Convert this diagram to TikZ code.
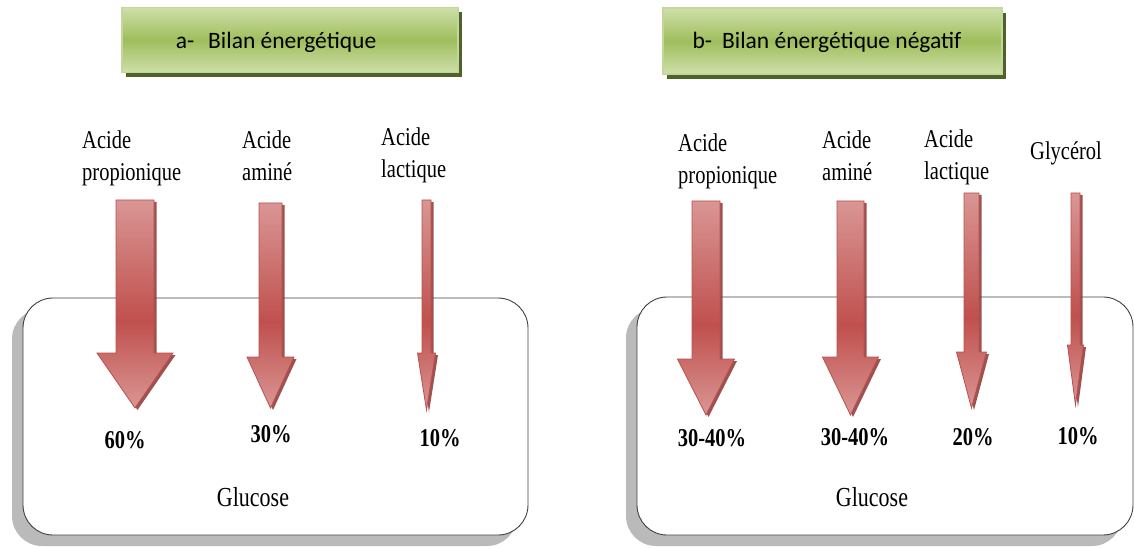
\documentclass[tikz,border=0pt]{standalone}
\usepackage{fontspec}
\setmainfont{Liberation Serif}
\newfontfamily\calib{Carlito}
\usepackage{graphicx}
\usetikzlibrary{shadows,calc}
\definecolor{arL}{HTML}{D99694}
\definecolor{arD}{HTML}{C0504D}
\definecolor{arB}{HTML}{B9504E}
\definecolor{arS}{HTML}{8C3432}
\definecolor{tL}{HTML}{CFDFAA}
\definecolor{tD}{HTML}{9FBE5C}
\definecolor{tB}{HTML}{C3D69B}
\definecolor{tS}{HTML}{4F6228}
\pgfdeclareverticalshading{arrshade}{100bp}{color(0bp)=(arL); color(25bp)=(arL); color(46bp)=(arD); color(75bp)=(arL); color(100bp)=(arL)}
\newcommand\lab[1]{\scalebox{1}[1.25]{\begin{tabular}[t]{@{}l@{}}#1\end{tabular}}}
\newcommand\tall[1]{\scalebox{1}[1.25]{#1}}
% #1 name, #2 xc, #3 ytop, #4 shaft half width, #5 y head, #6 head half width, #7 y tip
\newcommand\darrow[7]{%
  \begin{scope}[shift={(2.5,2)}]
  \fill[arS, opacity=0.85] (#2-#4,#3) -- (#2+#4,#3) -- (#2+#4,#5) -- (#2+#6,#5) -- (#2,#7) -- (#2-#6,#5) -- (#2-#4,#5) -- cycle;
  \end{scope}
  \draw[arrowbody] (#2-#4,#3) -- (#2+#4,#3) -- (#2+#4,#5) -- (#2+#6,#5) -- (#2,#7) -- (#2-#6,#5) -- (#2-#4,#5) -- cycle;
  \coordinate (#1) at (#2,#7);
}
\tikzset{
  arrowbody/.style={shading=arrshade, draw=arB, line width=0.8pt, line join=miter},
  cellbox/.style={draw=black!75, line width=0.9pt, fill=white, rounded corners=30pt, inner sep=0pt,
     drop shadow={shadow xshift=-11pt, shadow yshift=-11pt, fill=black!27, opacity=1}},
  titlebox/.style={draw=tB, line width=1.2pt, top color=tL, bottom color=tL, middle color=tD, inner sep=0pt,
     drop shadow={shadow xshift=4pt, shadow yshift=-5pt, fill=tS, opacity=1}},
  titletext/.style={font=\calib\fontsize{23.5}{28}\selectfont, inner sep=0pt},
  lbl/.style={font=\fontsize{20.5}{25.6}\selectfont, inner sep=0pt, anchor=base west},
  pct/.style={font=\bfseries\fontsize{20.5}{25.6}\selectfont, inner sep=0pt},
  gluc/.style={font=\fontsize{22}{26}\selectfont, inner sep=0pt}
}
\begin{document}
\begin{tikzpicture}[x=1pt, y=-1pt]
\useasboundingbox (0,0) rectangle (1135,548);
% titles
\node[titlebox, minimum width=336pt, minimum height=65pt] (ta) at (290,40) {};
\node[titletext] (tta) at (276,42) {a-\hspace{14pt}Bilan énergétique};
\node[titlebox, minimum width=339pt, minimum height=66pt] (tb) at (832.5,41) {};
\node[titletext] (ttb) at (827,42) {b-\hspace{10pt}Bilan énergétique négatif};
% boxes
\node[cellbox, minimum width=505pt, minimum height=237pt] (boxa) at (275.5,416.5) {};
\node[cellbox, minimum width=496pt, minimum height=238pt] (boxb) at (885,416) {};
% arrows left
\darrow{a1}{135}{200}{19}{353}{38}{408}
\darrow{a2}{270.5}{203}{11.5}{357}{23.5}{408}
\darrow{a3}{426.5}{200}{4.5}{353}{9}{410}
% arrows right
\darrow{b1}{706}{201}{14}{359}{28.5}{415}
\darrow{b2}{850.5}{201}{13.5}{357}{28}{415}
\darrow{b3}{971.5}{193}{7.5}{352}{15}{408}
\darrow{b4}{1075.5}{193}{4.5}{345}{8}{405}
% labels left
\node[lbl] (la1) at (82,149) {\lab{Acide\\propionique}};
\node[lbl] (la2) at (242,149) {\lab{Acide\\aminé}};
\node[lbl] (la3) at (381,146) {\lab{Acide\\lactique}};
% labels right
\node[lbl] (lb1) at (678,152) {\lab{Acide\\propionique}};
\node[lbl] (lb2) at (822,149) {\lab{Acide\\aminé}};
\node[lbl] (lb3) at (924,148) {\lab{Acide\\lactique}};
\node[lbl] (lb4) at (1030,160) {\tall{Glycérol}};
% percentages
\node[pct] (pa1) at (125,440) {\tall{60\%}};
\node[pct] (pa2) at (271,434) {\tall{30\%}};
\node[pct] (pa3) at (440,438) {\tall{10\%}};
\node[pct] (pb1) at (712,438) {\tall{30-40\%}};
\node[pct] (pb2) at (855,437) {\tall{30-40\%}};
\node[pct] (pb3) at (973,437) {\tall{20\%}};
\node[pct] (pb4) at (1078,436) {\tall{10\%}};
% glucose
\node[gluc] (ga) at (253,497) {\tall{Glucose}};
\node[gluc] (gb) at (872,497) {\tall{Glucose}};
\end{tikzpicture}
\end{document}
